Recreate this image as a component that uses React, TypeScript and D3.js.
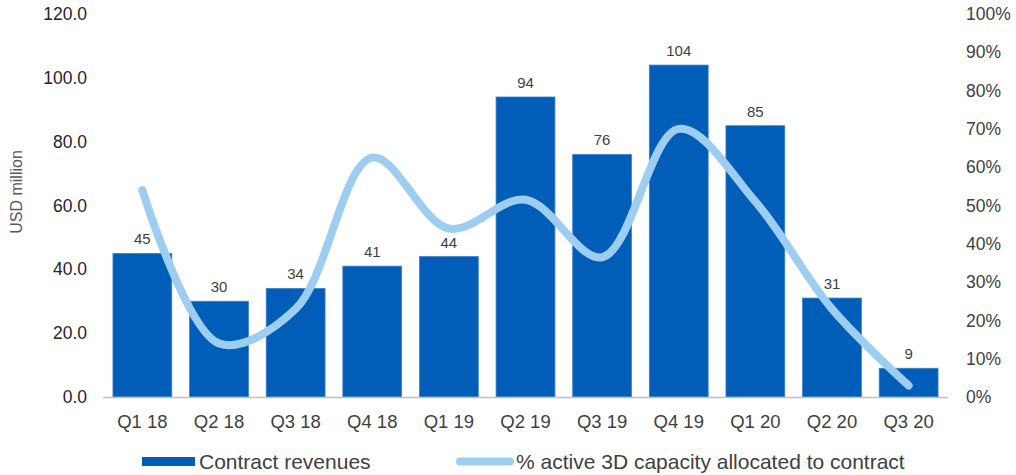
import React from "react";
import * as d3 from "d3";

const categories = ["Q1 18", "Q2 18", "Q3 18", "Q4 18", "Q1 19", "Q2 19", "Q3 19", "Q4 19", "Q1 20", "Q2 20", "Q3 20"];
const revenues = [45, 30, 34, 41, 44, 94, 76, 104, 85, 31, 9];
const capacityPct = [54, 14, 23, 62.5, 44, 51.5, 36.5, 70, 51, 23, 3];
const leftTicks = [0, 20, 40, 60, 80, 100, 120];
const rightTicks = [0, 10, 20, 30, 40, 50, 60, 70, 80, 90, 100];

const W = 1016;
const H = 475;
const FONT = "'Liberation Sans', Arial, sans-serif";
const BAR = "#005EB8";
const LINE = "#9ECDF2";

export default function App() {
  const x = d3.scaleBand<string>().domain(categories).range([103, 948]).paddingInner(0.232).paddingOuter(0.13);
  const yL = d3.scaleLinear().domain([0, 120]).range([397, 14]);
  const yR = d3.scaleLinear().domain([0, 100]).range([397, 14]);
  const line = d3
    .line<number>()
    .x((_, i) => (x(categories[i]) as number) + x.bandwidth() / 2)
    .y((d) => yR(d))
    .curve(d3.curveCatmullRom.alpha(0.5));

  return (
    <svg width={W} height={H} style={{ position: "absolute", left: 0, top: 0, background: "#fff" }} fontFamily={FONT}>
      {leftTicks.map((t) => (
        <text key={"l" + t} x={87} y={yL(t)} dy="0.35em" textAnchor="end" fontSize={17.5} fill="#262626">
          {t.toFixed(1)}
        </text>
      ))}
      {rightTicks.map((t) => (
        <text key={"r" + t} x={966} y={yR(t)} dy="0.35em" textAnchor="start" fontSize={17.5} fill="#404040">
          {t + "%"}
        </text>
      ))}
      <text transform="translate(22,192) rotate(-90)" textAnchor="middle" fontSize={16} fill="#595959">
        USD million
      </text>
      {revenues.map((v, i) => (
        <rect
          key={"b" + i}
          x={x(categories[i])}
          y={yL(v)}
          width={x.bandwidth()}
          height={yL(0) - yL(v)}
          fill={BAR}
          stroke="#3f80cc"
          strokeWidth={0.8}
        />
      ))}
      <line x1={103} x2={948} y1={397.5} y2={397.5} stroke="#bfbfbf" strokeWidth={1.5} />
      {revenues.map((v, i) => (
        <text
          key={"d" + i}
          x={(x(categories[i]) as number) + x.bandwidth() / 2}
          y={yL(v) - 9}
          textAnchor="middle"
          fontSize={15}
          fill="#404040"
        >
          {v}
        </text>
      ))}
      <path d={line(capacityPct) || ""} fill="none" stroke={LINE} strokeWidth={8} strokeLinecap="round" strokeLinejoin="round" />
      {categories.map((c) => (
        <text key={"c" + c} x={(x(c) as number) + x.bandwidth() / 2} y={422} dy="0.35em" textAnchor="middle" fontSize={18.5} fill="#404040">
          {c}
        </text>
      ))}
      <rect x={142} y={457} width={53} height={9} fill={BAR} />
      <text x={199} y={461.5} dy="0.35em" fontSize={21} fill="#404040">
        Contract revenues
      </text>
      <line x1={460} x2={510} y1={461.5} y2={461.5} stroke={LINE} strokeWidth={8} strokeLinecap="round" />
      <text x={516} y={461.5} dy="0.35em" fontSize={21} fill="#404040">
        % active 3D capacity allocated to contract
      </text>
    </svg>
  );
}
